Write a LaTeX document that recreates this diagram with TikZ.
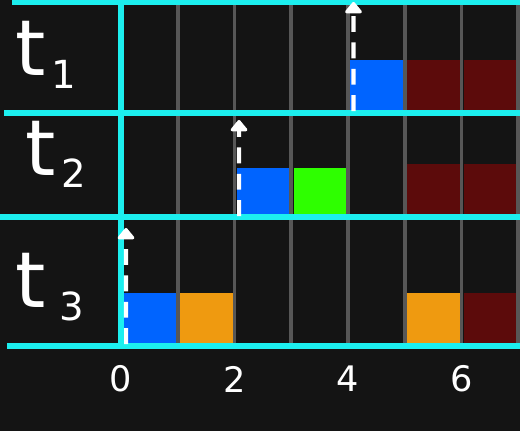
\documentclass[tikz,border=0pt]{standalone}
\usepackage{xcolor}
\usepackage{fontspec}
\setmainfont{DejaVu Sans}
\usepackage{tikz}
\usetikzlibrary{arrows.meta}

\definecolor{board}{HTML}{141414}
\definecolor{lanecyan}{HTML}{1CEFEF}
\definecolor{slotgray}{HTML}{575757}
\definecolor{jobblue}{HTML}{0064FF}
\definecolor{jobgreen}{HTML}{2EFF00}
\definecolor{joborange}{HTML}{EF9A10}
\definecolor{jobred}{HTML}{5C0B0B}

\begin{document}
\begin{tikzpicture}[>=Stealth,
  blk/.style={minimum width=1.06cm, minimum height=1.02cm, inner sep=0pt,
    anchor=south west},
  lane/.style={draw=lanecyan, line width=3pt},
  slot/.style={draw=slotgray, line width=2.2pt},
  evt/.style={white, line width=2.4pt, dash pattern=on 9pt off 6pt,
    -{Triangle[round, length=7pt, width=11pt]}},
  lbl/.style={text=white, inner sep=0pt}]
  \fill[board] (0,0) rectangle (10.4,8.62);
  \useasboundingbox (0,0) rectangle (10.4,8.62);
  \node[blk, fill=jobblue] (b1) at (7.00,6.40) {};
  \node[blk, fill=jobred] (r1a) at (8.135,6.40) {};
  \node[blk, fill=jobred] (r1b) at (9.27,6.40) {};
  \node[blk, fill=jobblue, minimum height=0.96cm] (b2) at (4.73,4.30) {};
  \node[blk, fill=jobgreen, minimum height=0.96cm] (g2) at (5.865,4.30) {};
  \node[blk, fill=jobred, minimum height=1.04cm] (r2a) at (8.135,4.30) {};
  \node[blk, fill=jobred, minimum height=1.04cm] (r2b) at (9.27,4.30) {};
  \node[blk, fill=jobblue] (b3) at (2.47,1.74) {};
  \node[blk, fill=joborange] (o3a) at (3.595,1.74) {};
  \node[blk, fill=joborange] (o3b) at (8.135,1.74) {};
  \node[blk, fill=jobred] (r3) at (9.27,1.74) {};
  \foreach \k in {1,...,7}
    \draw[slot] ({2.42+1.135*\k},1.70) -- ({2.42+1.135*\k},8.62);
  \draw[lane] (0.24,8.58) -- (10.4,8.58);
  \draw[lane] (0.08,6.36) -- (10.4,6.36);
  \draw[lane] (0,4.28) -- (10.4,4.28);
  \draw[lane] (0.14,1.70) -- (10.4,1.70);
  \draw[lane] (2.42,1.70) -- (2.42,8.62);
  \coordinate (up1) at (7.07,8.58);
  \coordinate (up2) at (4.78,6.22);
  \coordinate (up3) at (2.52,4.06);
  \draw[evt] ([xshift=2pt]b1.south west) -- (up1);
  \draw[evt] ([xshift=1.5pt]b2.south west) -- (up2);
  \draw[evt] ([xshift=1.5pt]b3.south west) -- (up3);
  \node[lbl] (t1) at (0.92,7.52)
    {{\fontsize{44}{44}\selectfont t}\hspace{3pt}\raisebox{-7pt}{\fontsize{22}{22}\selectfont 1}};
  \node[lbl] (t2) at (1.12,5.54)
    {{\fontsize{44}{44}\selectfont t}\hspace{3pt}\raisebox{-7pt}{\fontsize{22}{22}\selectfont 2}};
  \node[lbl] (t3) at (1.00,2.88)
    {{\fontsize{44}{44}\selectfont t}\hspace{8pt}\raisebox{-7pt}{\fontsize{22}{22}\selectfont 3}};
  \foreach \k in {0,2,4,6}
    \node[lbl, font=\fontsize{20}{20}\selectfont] (n\k) at ({2.42+1.135*\k},1.04) {\k};
\end{tikzpicture}
\end{document}
